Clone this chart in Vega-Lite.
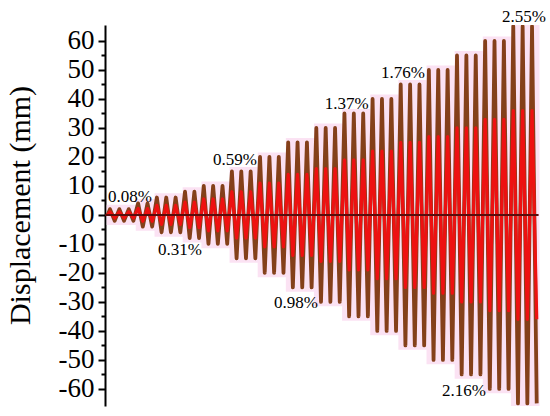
{
  "$schema": "https://vega.github.io/schema/vega-lite/v6.json",
  "width": 435,
  "height": 381,
  "autosize": {"type": "none"},
  "padding": {"left": 105, "top": 25, "right": 10, "bottom": 10},
  "background": "white",
  "config": {
    "view": {"stroke": null}
  },
  "resolve": {"axis": {"y": "independent"}},
  "datasets": {
    "wave": [
      {"t": 0, "d": 0, "r": 0},
      {"t": 0.25, "d": 2, "r": 1.1}, {"t": 0.75, "d": -2, "r": -1.1},
      {"t": 1.25, "d": 2, "r": 1.1}, {"t": 1.75, "d": -2, "r": -1.1},
      {"t": 2.25, "d": 2, "r": 1.1}, {"t": 2.75, "d": -2, "r": -1.1},
      {"t": 3.25, "d": 4, "r": 2.2}, {"t": 3.75, "d": -4, "r": -2.2},
      {"t": 4.25, "d": 4, "r": 2.2}, {"t": 4.75, "d": -4, "r": -2.2},
      {"t": 5.25, "d": 6, "r": 3.3}, {"t": 5.75, "d": -6, "r": -3.3},
      {"t": 6.25, "d": 6, "r": 3.3}, {"t": 6.75, "d": -6, "r": -3.3},
      {"t": 7.25, "d": 6, "r": 3.3}, {"t": 7.75, "d": -6, "r": -3.3},
      {"t": 8.25, "d": 8, "r": 4.4}, {"t": 8.75, "d": -8, "r": -4.4},
      {"t": 9.25, "d": 8, "r": 4.4}, {"t": 9.75, "d": -8, "r": -4.4},
      {"t": 10.25, "d": 10, "r": 5.5}, {"t": 10.75, "d": -10, "r": -5.5},
      {"t": 11.25, "d": 10, "r": 5.5}, {"t": 11.75, "d": -10, "r": -5.5},
      {"t": 12.25, "d": 10, "r": 5.5}, {"t": 12.75, "d": -10, "r": -5.5},
      {"t": 13.25, "d": 15, "r": 8}, {"t": 13.75, "d": -15, "r": -8},
      {"t": 14.25, "d": 15, "r": 8}, {"t": 14.75, "d": -15, "r": -8},
      {"t": 15.25, "d": 15, "r": 8}, {"t": 15.75, "d": -15, "r": -8},
      {"t": 16.25, "d": 20, "r": 11}, {"t": 16.75, "d": -20, "r": -11},
      {"t": 17.25, "d": 20, "r": 11}, {"t": 17.75, "d": -20, "r": -11},
      {"t": 18.25, "d": 20, "r": 11}, {"t": 18.75, "d": -20, "r": -11},
      {"t": 19.25, "d": 25, "r": 14}, {"t": 19.75, "d": -25, "r": -14},
      {"t": 20.25, "d": 25, "r": 14}, {"t": 20.75, "d": -25, "r": -14},
      {"t": 21.25, "d": 25, "r": 14}, {"t": 21.75, "d": -25, "r": -14},
      {"t": 22.25, "d": 30, "r": 16}, {"t": 22.75, "d": -30, "r": -16},
      {"t": 23.25, "d": 30, "r": 16}, {"t": 23.75, "d": -30, "r": -16},
      {"t": 24.25, "d": 30, "r": 16}, {"t": 24.75, "d": -30, "r": -16},
      {"t": 25.25, "d": 35, "r": 19}, {"t": 25.75, "d": -35, "r": -19},
      {"t": 26.25, "d": 35, "r": 19}, {"t": 26.75, "d": -35, "r": -19},
      {"t": 27.25, "d": 35, "r": 19}, {"t": 27.75, "d": -35, "r": -19},
      {"t": 28.25, "d": 40, "r": 22}, {"t": 28.75, "d": -40, "r": -22},
      {"t": 29.25, "d": 40, "r": 22}, {"t": 29.75, "d": -40, "r": -22},
      {"t": 30.25, "d": 40, "r": 22}, {"t": 30.75, "d": -40, "r": -22},
      {"t": 31.25, "d": 45, "r": 25}, {"t": 31.75, "d": -45, "r": -25},
      {"t": 32.25, "d": 45, "r": 25}, {"t": 32.75, "d": -45, "r": -25},
      {"t": 33.25, "d": 45, "r": 25}, {"t": 33.75, "d": -45, "r": -25},
      {"t": 34.25, "d": 50, "r": 27}, {"t": 34.75, "d": -50, "r": -27},
      {"t": 35.25, "d": 50, "r": 27}, {"t": 35.75, "d": -50, "r": -27},
      {"t": 36.25, "d": 50, "r": 27}, {"t": 36.75, "d": -50, "r": -27},
      {"t": 37.25, "d": 55, "r": 30}, {"t": 37.75, "d": -55, "r": -30},
      {"t": 38.25, "d": 55, "r": 30}, {"t": 38.75, "d": -55, "r": -30},
      {"t": 39.25, "d": 55, "r": 30}, {"t": 39.75, "d": -55, "r": -30},
      {"t": 40.25, "d": 60, "r": 33}, {"t": 40.75, "d": -60, "r": -33},
      {"t": 41.25, "d": 60, "r": 33}, {"t": 41.75, "d": -60, "r": -33},
      {"t": 42.25, "d": 60, "r": 33}, {"t": 42.75, "d": -60, "r": -33},
      {"t": 43.25, "d": 65, "r": 36}, {"t": 43.75, "d": -65, "r": -36},
      {"t": 44.25, "d": 65, "r": 36}, {"t": 44.75, "d": -65, "r": -36},
      {"t": 45.25, "d": 65, "r": 36}, {"t": 45.75, "d": -65, "r": -36}
    ],
    "envelope": [
      {"t": -0.1, "lo": -3.5, "hi": 3.5},
      {"t": 3, "lo": -5.5, "hi": 5.5},
      {"t": 5, "lo": -7.5, "hi": 7.5},
      {"t": 8, "lo": -9.5, "hi": 9.5},
      {"t": 10, "lo": -11.5, "hi": 11.5},
      {"t": 13, "lo": -16.5, "hi": 16.5},
      {"t": 16, "lo": -21.5, "hi": 21.5},
      {"t": 19, "lo": -26.5, "hi": 26.5},
      {"t": 22, "lo": -31.5, "hi": 31.5},
      {"t": 25, "lo": -36.5, "hi": 36.5},
      {"t": 28, "lo": -41.5, "hi": 41.5},
      {"t": 31, "lo": -46.5, "hi": 46.5},
      {"t": 34, "lo": -51.5, "hi": 51.5},
      {"t": 37, "lo": -56.5, "hi": 56.5},
      {"t": 40, "lo": -61.5, "hi": 61.5},
      {"t": 43, "lo": -65.9, "hi": 65.5},
      {"t": 46.05, "lo": -65.9, "hi": 65.5}
    ],
    "labels": [
      {"t": 2.38, "y": 4.45, "label": "0.08%"},
      {"t": 7.71, "y": -13.8, "label": "0.31%"},
      {"t": 13.58, "y": 17.2, "label": "0.59%"},
      {"t": 20.08, "y": -32.1, "label": "0.98%"},
      {"t": 25.5, "y": 36.5, "label": "1.37%"},
      {"t": 31.5, "y": 47.2, "label": "1.76%"},
      {"t": 38.0, "y": -62.4, "label": "2.16%"},
      {"t": 44.4, "y": 66.6, "label": "2.55%"}
    ]
  },
  "layer": [
    {
      "data": {"name": "envelope"},
      "mark": {"type": "area", "interpolate": "step-after", "color": "#fbe2f3", "clip": true},
      "encoding": {
        "x": {"field": "t", "type": "quantitative", "scale": {"domain": [-0.28, 46.1], "nice": false, "zero": false}, "axis": null},
        "y": {"field": "lo", "type": "quantitative", "scale": {"domain": [-65.9, 65.5], "nice": false, "zero": false},
          "axis": {
            "orient": "left",
            "title": "Displacement (mm)",
            "titleFont": "Liberation Serif",
            "titleFontSize": 30,
            "titleFontWeight": "normal",
            "titleColor": "black",
            "titleX": -70,
            "titleY": 180,
            "titleAngle": -90,
            "titleAlign": "center",
            "titleBaseline": "bottom",
            "values": [-60, -50, -40, -30, -20, -10, 0, 10, 20, 30, 40, 50, 60],
            "labelExpr": "toString(datum.value)",
            "labelFont": "Liberation Serif",
            "labelFontSize": 27,
            "labelColor": "black",
            "labelPadding": 4,
            "labelBaseline": "middle",
            "labelOverlap": false,
            "labelBound": false,
            "labelFlush": false,
            "domainColor": "black",
            "domainWidth": 2,
            "tickColor": "black",
            "tickWidth": 2,
            "tickSize": 7,
            "grid": false
          }
        },
        "y2": {"field": "hi"}
      }
    },
    {
      "data": {"name": "wave"},
      "mark": {"type": "line", "color": "#84401a", "strokeWidth": 3.8, "strokeJoin": "round", "clip": true},
      "encoding": {
        "x": {"field": "t", "type": "quantitative"},
        "y": {"field": "d", "type": "quantitative", "axis": {
          "orient": "left", "offset": 0, "title": null, "labels": false, "domain": false,
          "values": [-55, -45, -35, -25, -15, -5, 5, 15, 25, 35, 45, 55],
          "tickColor": "black", "tickWidth": 2, "tickSize": 4, "grid": false
        }}
      }
    },
    {
      "data": {"name": "wave"},
      "mark": {"type": "line", "color": "#ee1111", "strokeWidth": 3.2, "strokeJoin": "round", "clip": true},
      "encoding": {
        "x": {"field": "t", "type": "quantitative"},
        "y": {"field": "r", "type": "quantitative", "axis": null}
      }
    },
    {
      "data": {"values": [{"t0": -0.28, "t1": 45.95, "z": 0}]},
      "mark": {"type": "rule", "color": "#5a0c0c", "strokeWidth": 2},
      "encoding": {
        "x": {"field": "t0", "type": "quantitative"},
        "x2": {"field": "t1"},
        "y": {"field": "z", "type": "quantitative", "axis": null}
      }
    },
    {
      "data": {"name": "labels"},
      "mark": {"type": "text", "font": "Liberation Serif", "fontSize": 17, "color": "black", "align": "center", "baseline": "alphabetic"},
      "encoding": {
        "x": {"field": "t", "type": "quantitative"},
        "y": {"field": "y", "type": "quantitative", "axis": null},
        "text": {"field": "label"}
      }
    }
  ]
}
